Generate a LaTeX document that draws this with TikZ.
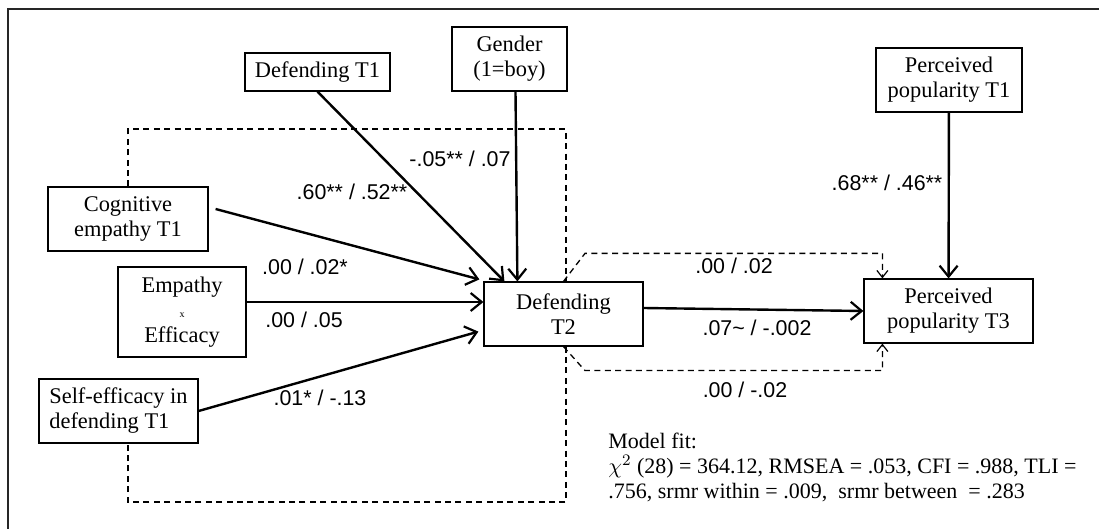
\documentclass[tikz,border=0pt]{standalone}
\usepackage{fontspec}
\setmainfont{Liberation Serif}
\setsansfont{Liberation Sans}
\usetikzlibrary{arrows.meta,calc}
\tikzset{
  varbox/.style={draw, line width=0.6pt, align=center, inner sep=0pt,
    font=\fontsize{11.2}{12.5}\selectfont},
  pathlab/.style={inner sep=0pt, font=\sffamily\fontsize{10.7}{12}\selectfont},
  patharr/.style={-{Straight Barb[length=5.5pt,width=9pt,line width=1.1pt]}, line width=1.2pt},
  covline/.style={dash pattern=on 3pt off 2.2pt, line width=0.65pt},
  covarr/.style={covline, -{Straight Barb[length=3.5pt,width=5.5pt,line width=0.6pt]}}
}
\begin{document}
\begin{tikzpicture}[x=0.5pt,y=-0.5pt]
  \useasboundingbox (0,0) rectangle (1099,529);
  \draw[line width=0.7pt, black!85] (8,529) |- (1099,9);
  % variables
  \node[varbox, minimum width=72.5pt, minimum height=19pt] (deft1) at (317.5,72) {Defending T1};
  \node[varbox, minimum width=57.5pt, minimum height=32pt] (gender) at (509.5,59) {Gender\\(1=boy)};
  \node[varbox, minimum width=80pt, minimum height=32pt] (cogemp) at (128,219) {Cognitive\\empathy T1};
  \node[varbox, minimum width=64pt, minimum height=45pt] (empeff) at (182,312) {Empathy\\{\tiny x}\\Efficacy};
  \node[varbox, align=left, minimum width=79.5pt, minimum height=32pt] (selfeff) at (118.5,411) {Self-efficacy in\\defending T1};
  \node[varbox, minimum width=79.5pt, minimum height=32pt] (deft2) at (563.5,314) {Defending\\T2};
  \node[varbox, minimum width=73pt, minimum height=32pt] (pop1) at (949,80) {Perceived\\popularity T1};
  \node[varbox, minimum width=84.5pt, minimum height=32pt] (pop3) at (948.5,311) {Perceived\\popularity T3};
  % covariance box round the predictors
  \draw[covline] (cogemp.north) |- (566,129) -- ($(deft2.north)+(2.5,0)$);
  \draw[covline] ($(deft2.south)+(2.5,0)$) -- (566,502) -| (cogemp.north |- selfeff.south);
  % paths
  \draw[patharr] (deft1.south) -- ($(deft2.north west)+(21,0)$);
  \draw[patharr] ($(gender.south)+(6,0)$) -- ($(deft2.north west)+(34,0)$);
  \draw[patharr] ($(cogemp.east)+(7,-10)$) -- ($(deft2.north west)+(-4,-2)$);
  \draw[patharr] ($(empeff.east)+(0,-10)$) -- ($(deft2.west)+(0,-12)$);
  \draw[patharr] (selfeff.east) -- ($(deft2.south west)+(-5,-15)$);
  \draw[patharr] ($(deft2.east)+(0,-6)$) -- (pop3.west);
  \draw[patharr] (pop1) -- (pop3);
  \draw[covarr] (deft2.north) -- ++(21.5,-28) -| ($(pop3.north west)+(19,0)$);
  \draw[covarr] (deft2.south) -- ++(21.5,24) -| ($(pop3.south west)+(19,0)$);
  % coefficients
  \node[pathlab] (lab-deft1) at (352,192) {.60** / .52**};
  \node[pathlab] (lab-gender) at (460,159) {-.05** / .07};
  \node[pathlab] (lab-cogemp) at (305,267) {.00 / .02*};
  \node[pathlab] (lab-empeff) at (304,320) {.00 / .05};
  \node[pathlab] (lab-selfeff) at (320,398) {.01* / -.13};
  \node[pathlab] (lab-pop1) at (887,183) {.68** / .46**};
  \node[pathlab] (lab-covtop) at (734,266) {.00 / .02};
  \node[pathlab] (lab-deft2) at (757,328) {.07\textasciitilde{} / -.002};
  \node[pathlab] (lab-covbot) at (745,390) {.00 / -.02};
  % fit indices
  \node[anchor=north west, align=left, inner sep=0pt, font=\fontsize{11}{12.5}\selectfont] (fit) at (608,433)
    {Model fit:\\$\chi^2$ (28) = 364.12, RMSEA = .053, CFI = .988, TLI =\\.756, srmr within = .009,\ \ srmr between\ \ = .283};
\end{tikzpicture}
\end{document}
